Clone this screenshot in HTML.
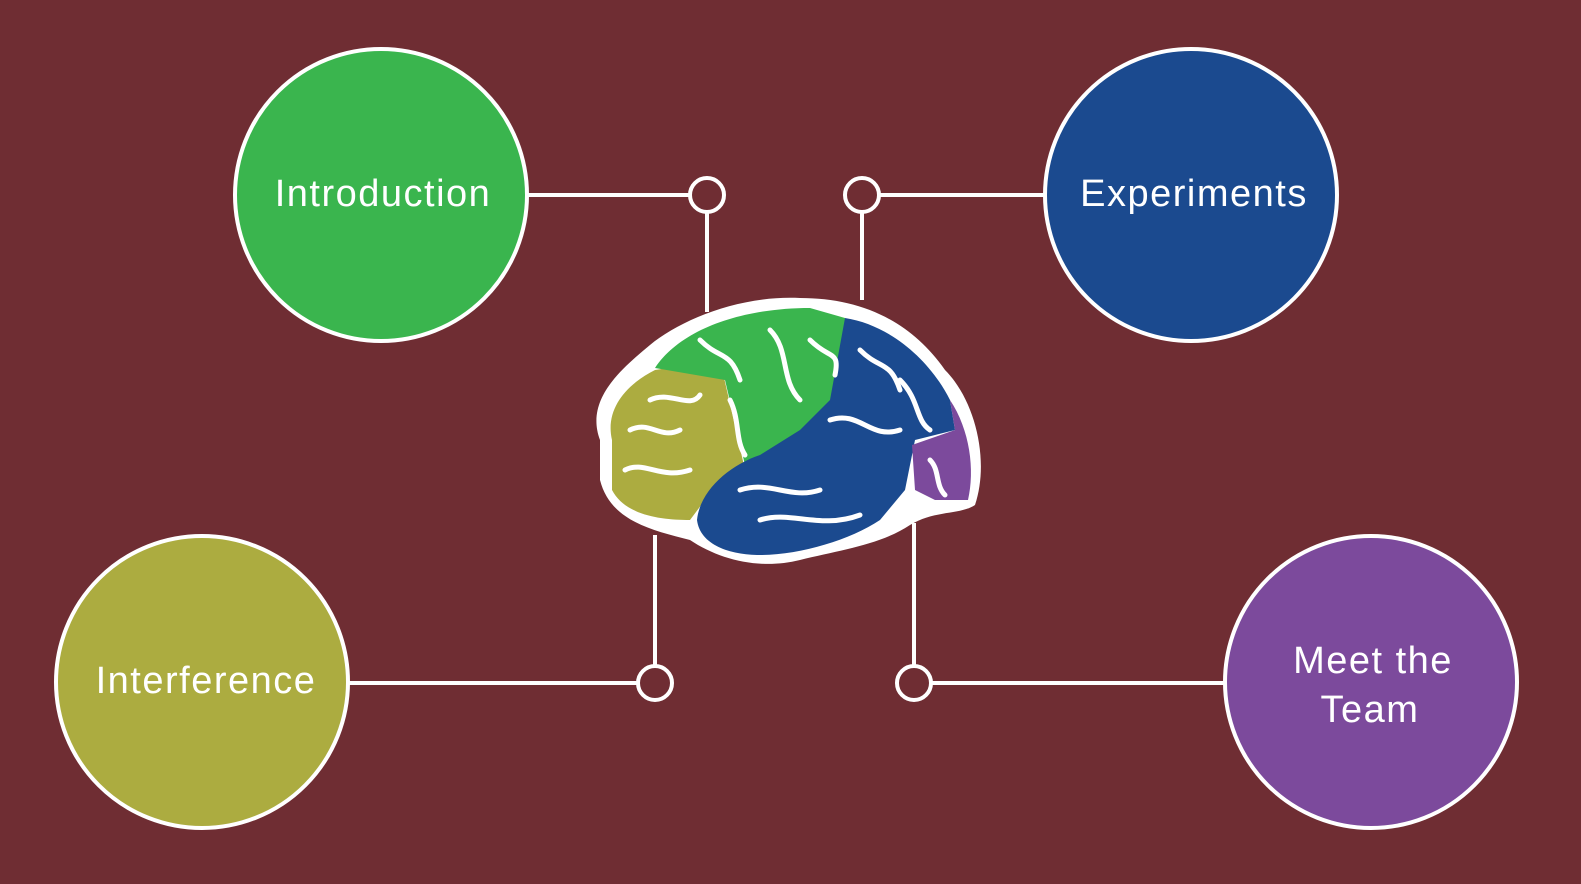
<!DOCTYPE html>
<html><head><style>
html,body{margin:0;padding:0}
body{width:1581px;height:879px;background:#6f2d33;overflow:hidden;font-family:"Liberation Sans",sans-serif}
</style></head><body>
<svg width="1581" height="879" viewBox="0 0 1581 879" xmlns="http://www.w3.org/2000/svg">
<g stroke="#fff" stroke-width="4" fill="none">
<line x1="528" y1="195" x2="690" y2="195"/>
<line x1="707" y1="212" x2="707" y2="312"/>
<circle cx="707" cy="195" r="17"/>
<line x1="879" y1="195" x2="1044" y2="195"/>
<line x1="862" y1="212" x2="862" y2="300"/>
<circle cx="862" cy="195" r="17"/>
<line x1="348" y1="683" x2="638" y2="683"/>
<line x1="655" y1="666" x2="655" y2="535"/>
<circle cx="655" cy="683" r="17"/>
<line x1="931" y1="683" x2="1225" y2="683"/>
<line x1="914" y1="666" x2="914" y2="523"/>
<circle cx="914" cy="683" r="17"/>
</g>
<g stroke="#fff" stroke-width="4">
<circle cx="381" cy="195" r="146" fill="#3ab54e"/>
<circle cx="1191" cy="195" r="146" fill="#1b4a8f"/>
<circle cx="202" cy="682" r="146" fill="#acac40"/>
<circle cx="1371" cy="682" r="146" fill="#7c4a9c"/>
</g>
<path d="M600 440 C585 400 620 370 650 345 C680 320 740 295 800 298 C860 298 910 320 945 370 C975 400 990 460 975 505 C960 515 935 510 910 525 C880 545 840 550 800 560 C760 570 720 560 690 540 C650 530 610 520 600 480 Z" fill="#fff"/>
<path d="M612 440 C605 410 625 385 655 370 L720 360 L745 470 L705 500 L690 520 C660 520 625 515 612 490 Z" fill="#acac40"/>
<path d="M655 368 C680 330 740 308 810 308 L845 318 L850 380 L820 420 L780 445 L745 465 L725 380 Z" fill="#3ab54e"/>
<path d="M845 318 C890 325 930 360 950 400 L955 430 L915 440 L905 490 L880 520 C850 540 800 555 760 555 C730 555 700 545 697 520 C700 490 730 465 760 455 L800 430 L830 400 Z" fill="#1b4a8f"/>
<path d="M950 400 C970 430 975 470 968 500 L935 500 L915 490 L912 445 L955 430 Z" fill="#7c4a9c"/>
<g stroke="#fff" stroke-width="5" fill="none" stroke-linecap="round">
<path d="M630 430 C650 420 660 440 680 430"/><path d="M625 470 C645 460 660 480 690 470"/>
<path d="M650 400 C670 390 690 410 700 395"/><path d="M700 340 C720 360 730 350 740 380"/>
<path d="M770 330 C790 350 780 380 800 400"/><path d="M810 340 C830 360 840 350 835 375"/>
<path d="M860 350 C880 370 890 360 900 390"/><path d="M830 420 C860 410 870 440 900 430"/>
<path d="M740 490 C770 480 790 500 820 490"/><path d="M760 520 C790 510 820 530 860 515"/>
<path d="M900 380 C920 400 915 420 930 430"/><path d="M930 460 C940 470 935 485 945 495"/>
<path d="M730 400 C740 420 735 440 745 455"/>
</g>
<g fill="#fff" font-size="38" text-anchor="middle" letter-spacing="1.5">
<text x="383" y="206">Introduction</text>
<text x="1194" y="206">Experiments</text>
<text x="206" y="693">Interference</text>
<text x="1373" y="673">Meet the</text>
<text x="1370" y="722">Team</text>
</g>
</svg>
</body></html>
